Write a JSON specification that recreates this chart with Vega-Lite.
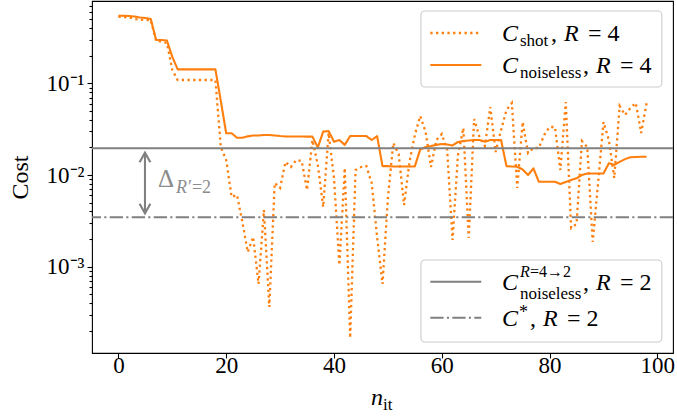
{
"$schema": "https://vega.github.io/schema/vega-lite/v6.json",
"width": 581, "height": 352,
"autosize": {"type": "none"},
"padding": {"left": 92, "top": 1, "right": 4, "bottom": 66},
"background": "white",
"config": {"view": {"stroke": "black", "strokeWidth": 1.1}, "font": "Liberation Serif"},
"datasets": {
"cost": [
{"it":0,"series":"shot","cost":0.535},{"it":1,"series":"shot","cost":0.528},{"it":2,"series":"shot","cost":0.522},{"it":3,"series":"shot","cost":0.503},{"it":4,"series":"shot","cost":0.496},{"it":5,"series":"shot","cost":0.49},{"it":6,"series":"shot","cost":0.49},{"it":7,"series":"shot","cost":0.289},{"it":8,"series":"shot","cost":0.286},{"it":9,"series":"shot","cost":0.275},
{"it":10,"series":"shot","cost":0.1396},{"it":11,"series":"shot","cost":0.1086},{"it":12,"series":"shot","cost":0.1086},{"it":13,"series":"shot","cost":0.1086},{"it":14,"series":"shot","cost":0.1086},{"it":15,"series":"shot","cost":0.1086},{"it":16,"series":"shot","cost":0.1086},{"it":17,"series":"shot","cost":0.1086},{"it":18,"series":"shot","cost":0.1086},{"it":19,"series":"shot","cost":0.0202},
{"it":20,"series":"shot","cost":0.01458},{"it":21,"series":"shot","cost":0.00576},{"it":22,"series":"shot","cost":0.00605},{"it":23,"series":"shot","cost":0.00307},{"it":24,"series":"shot","cost":0.001446},{"it":25,"series":"shot","cost":0.002108},{"it":26,"series":"shot","cost":0.000648},{"it":27,"series":"shot","cost":0.00415},{"it":28,"series":"shot","cost":0.000363},{"it":29,"series":"shot","cost":0.00818},
{"it":30,"series":"shot","cost":0.00722},{"it":31,"series":"shot","cost":0.01386},{"it":32,"series":"shot","cost":0.01223},{"it":33,"series":"shot","cost":0.01458},{"it":34,"series":"shot","cost":0.01421},{"it":35,"series":"shot","cost":0.00686},{"it":36,"series":"shot","cost":0.02407},{"it":37,"series":"shot","cost":0.01285},{"it":38,"series":"shot","cost":0.00448},{"it":39,"series":"shot","cost":0.02871},
{"it":40,"series":"shot","cost":0.00927},{"it":41,"series":"shot","cost":0.001043},{"it":42,"series":"shot","cost":0.01192},{"it":43,"series":"shot","cost":0.000167},{"it":44,"series":"shot","cost":0.01134},{"it":45,"series":"shot","cost":0.01223},{"it":46,"series":"shot","cost":0.01253},{"it":47,"series":"shot","cost":0.00818},{"it":48,"series":"shot","cost":0.002108},{"it":49,"series":"shot","cost":0.000648},
{"it":50,"series":"shot","cost":0.00561},{"it":51,"series":"shot","cost":0.02234},{"it":52,"series":"shot","cost":0.01694},{"it":53,"series":"shot","cost":0.00471},{"it":54,"series":"shot","cost":0.01386},{"it":55,"series":"shot","cost":0.0273},{"it":56,"series":"shot","cost":0.04399},{"it":57,"series":"shot","cost":0.02944},{"it":58,"series":"shot","cost":0.01223},{"it":59,"series":"shot","cost":0.02407},
{"it":60,"series":"shot","cost":0.028},{"it":61,"series":"shot","cost":0.01874},{"it":62,"series":"shot","cost":0.001956},{"it":63,"series":"shot","cost":0.01652},{"it":64,"series":"shot","cost":0.03255},{"it":65,"series":"shot","cost":0.002056},{"it":66,"series":"shot","cost":0.0408},{"it":67,"series":"shot","cost":0.02597},{"it":68,"series":"shot","cost":0.02071},{"it":69,"series":"shot","cost":0.05514},
{"it":70,"series":"shot","cost":0.01781},{"it":71,"series":"shot","cost":0.03095},{"it":72,"series":"shot","cost":0.05114},{"it":73,"series":"shot","cost":0.06098},{"it":74,"series":"shot","cost":0.00722},{"it":75,"series":"shot","cost":0.03784},{"it":76,"series":"shot","cost":0.01738},{"it":77,"series":"shot","cost":0.0197},{"it":78,"series":"shot","cost":0.0197},{"it":79,"series":"shot","cost":0.0273},
{"it":80,"series":"shot","cost":0.03338},{"it":81,"series":"shot","cost":0.03338},{"it":82,"series":"shot","cost":0.01134},{"it":83,"series":"shot","cost":0.06253},{"it":84,"series":"shot","cost":0.002642},{"it":85,"series":"shot","cost":0.002921},{"it":86,"series":"shot","cost":0.02348},{"it":87,"series":"shot","cost":0.0202},{"it":88,"series":"shot","cost":0.00186},{"it":89,"series":"shot","cost":0.00818},
{"it":90,"series":"shot","cost":0.03784},{"it":91,"series":"shot","cost":0.02407},{"it":92,"series":"shot","cost":0.00927},{"it":93,"series":"shot","cost":0.05655},{"it":94,"series":"shot","cost":0.0451},{"it":95,"series":"shot","cost":0.05376},{"it":96,"series":"shot","cost":0.06098},{"it":97,"series":"shot","cost":0.02871},{"it":98,"series":"shot","cost":0.06098},
{"it":0,"series":"noiseless","cost":0.546},{"it":1,"series":"noiseless","cost":0.546},{"it":2,"series":"noiseless","cost":0.542},{"it":3,"series":"noiseless","cost":0.535},{"it":4,"series":"noiseless","cost":0.522},{"it":5,"series":"noiseless","cost":0.515},{"it":6,"series":"noiseless","cost":0.503},{"it":7,"series":"noiseless","cost":0.297},{"it":8,"series":"noiseless","cost":0.297},{"it":9,"series":"noiseless","cost":0.293},
{"it":10,"series":"noiseless","cost":0.194},{"it":11,"series":"noiseless","cost":0.142},{"it":12,"series":"noiseless","cost":0.142},{"it":13,"series":"noiseless","cost":0.142},{"it":14,"series":"noiseless","cost":0.142},{"it":15,"series":"noiseless","cost":0.142},{"it":16,"series":"noiseless","cost":0.142},{"it":17,"series":"noiseless","cost":0.142},{"it":18,"series":"noiseless","cost":0.142},{"it":19,"series":"noiseless","cost":0.0641},
{"it":20,"series":"noiseless","cost":0.0285},{"it":21,"series":"noiseless","cost":0.0285},{"it":22,"series":"noiseless","cost":0.0255},{"it":23,"series":"noiseless","cost":0.0255},{"it":24,"series":"noiseless","cost":0.0264},{"it":25,"series":"noiseless","cost":0.027},{"it":26,"series":"noiseless","cost":0.027},{"it":27,"series":"noiseless","cost":0.0273},{"it":28,"series":"noiseless","cost":0.0273},{"it":29,"series":"noiseless","cost":0.027},
{"it":30,"series":"noiseless","cost":0.0266},{"it":31,"series":"noiseless","cost":0.0263},{"it":32,"series":"noiseless","cost":0.0263},{"it":33,"series":"noiseless","cost":0.0263},{"it":34,"series":"noiseless","cost":0.0263},{"it":35,"series":"noiseless","cost":0.0262},{"it":36,"series":"noiseless","cost":0.0262},{"it":37,"series":"noiseless","cost":0.02},{"it":38,"series":"noiseless","cost":0.0297},{"it":39,"series":"noiseless","cost":0.0302},
{"it":40,"series":"noiseless","cost":0.0231},{"it":41,"series":"noiseless","cost":0.0241},{"it":42,"series":"noiseless","cost":0.0213},{"it":43,"series":"noiseless","cost":0.0266},{"it":44,"series":"noiseless","cost":0.0266},{"it":45,"series":"noiseless","cost":0.0266},{"it":46,"series":"noiseless","cost":0.0266},{"it":47,"series":"noiseless","cost":0.0241},{"it":48,"series":"noiseless","cost":0.0266},{"it":49,"series":"noiseless","cost":0.0125},
{"it":50,"series":"noiseless","cost":0.0125},{"it":51,"series":"noiseless","cost":0.0124},{"it":52,"series":"noiseless","cost":0.0124},{"it":53,"series":"noiseless","cost":0.0124},{"it":54,"series":"noiseless","cost":0.0124},{"it":55,"series":"noiseless","cost":0.0124},{"it":56,"series":"noiseless","cost":0.019},{"it":57,"series":"noiseless","cost":0.0202},{"it":58,"series":"noiseless","cost":0.0207},{"it":59,"series":"noiseless","cost":0.0213},
{"it":60,"series":"noiseless","cost":0.0218},{"it":61,"series":"noiseless","cost":0.0215},{"it":62,"series":"noiseless","cost":0.021},{"it":63,"series":"noiseless","cost":0.0229},{"it":64,"series":"noiseless","cost":0.0235},{"it":65,"series":"noiseless","cost":0.0238},{"it":66,"series":"noiseless","cost":0.0241},{"it":67,"series":"noiseless","cost":0.0241},{"it":68,"series":"noiseless","cost":0.0231},{"it":69,"series":"noiseless","cost":0.0241},
{"it":70,"series":"noiseless","cost":0.0241},{"it":71,"series":"noiseless","cost":0.0241},{"it":72,"series":"noiseless","cost":0.0125},{"it":73,"series":"noiseless","cost":0.0124},{"it":74,"series":"noiseless","cost":0.0123},{"it":75,"series":"noiseless","cost":0.0115},{"it":76,"series":"noiseless","cost":0.01},{"it":77,"series":"noiseless","cost":0.0118},{"it":78,"series":"noiseless","cost":0.00845},{"it":79,"series":"noiseless","cost":0.00845},
{"it":80,"series":"noiseless","cost":0.00845},{"it":81,"series":"noiseless","cost":0.00845},{"it":82,"series":"noiseless","cost":0.00798},{"it":83,"series":"noiseless","cost":0.00839},{"it":84,"series":"noiseless","cost":0.00882},{"it":85,"series":"noiseless","cost":0.0092},{"it":86,"series":"noiseless","cost":0.01},{"it":87,"series":"noiseless","cost":0.0104},{"it":88,"series":"noiseless","cost":0.0104},{"it":89,"series":"noiseless","cost":0.0104},
{"it":90,"series":"noiseless","cost":0.0104},{"it":91,"series":"noiseless","cost":0.0134},{"it":92,"series":"noiseless","cost":0.0129},{"it":93,"series":"noiseless","cost":0.0139},{"it":94,"series":"noiseless","cost":0.0149},{"it":95,"series":"noiseless","cost":0.0156},{"it":96,"series":"noiseless","cost":0.0157},{"it":97,"series":"noiseless","cost":0.0158},{"it":98,"series":"noiseless","cost":0.0158}
],
"refs": [{"name":"noiseless_R4to2","value":0.01955},{"name":"optimal","value":0.003457}]
},
"layer": [
{"data": {"name": "cost"}, "transform": [{"filter": "datum.series == 'shot'"}],
 "mark": {"type": "line", "color": "#ff7f0e", "strokeWidth": 2.3, "strokeDash": [2.3, 3.4], "strokeCap": "butt"},
 "encoding": {
  "x": {"field": "it", "type": "quantitative", "scale": {"domain": [-4.9, 102.9], "nice": false, "zero": false},
   "axis": {"values": [0,20,40,60,80,100], "title": null, "grid": false, "domain": false, "tickSize": 5, "tickWidth": 1.1, "tickColor": "black", "labelFont": "Liberation Serif", "labelFontSize": 23, "labelColor": "black", "labelPadding": -4, "labelFlush": false, "labelOverlap": false}},
  "y": {"field": "cost", "type": "quantitative", "scale": {"type": "log", "domain": [0.0001145, 0.79], "nice": false},
   "axis": {"values": [0.0002,0.0003,0.0004,0.0005,0.0006,0.0007,0.0008,0.0009,0.001,0.002,0.003,0.004,0.005,0.006,0.007,0.008,0.009,0.01,0.02,0.03,0.04,0.05,0.06,0.07,0.08,0.09,0.1,0.2,0.3,0.4,0.5,0.6,0.7],
    "labelExpr": "datum.value == 0.1 ? '10⁻¹' : datum.value == 0.01 ? '10⁻²' : datum.value == 0.001 ? '10⁻³' : ''",
    "title": "Cost", "titleFont": "Liberation Serif", "titleFontSize": 24, "titleFontWeight": "normal", "titleColor": "black", "titlePadding": 14,
    "grid": false, "domain": false,
    "tickSize": {"condition": {"test": "datum.value == 0.1 || datum.value == 0.01 || datum.value == 0.001", "value": 5}, "value": 3},
    "tickWidth": 1.1, "tickColor": "black", "labelFont": "Liberation Serif", "labelFontSize": 23, "labelColor": "black", "labelPadding": 3, "labelFlush": false, "labelOverlap": false}}
 }},
{"data": {"name": "cost"}, "transform": [{"filter": "datum.series == 'noiseless'"}],
 "mark": {"type": "line", "color": "#ff7f0e", "strokeWidth": 2.1, "strokeJoin": "round"},
 "encoding": {"x": {"field": "it", "type": "quantitative"}, "y": {"field": "cost", "type": "quantitative"}}},
{"data": {"name": "refs"}, "transform": [{"filter": "datum.name == 'noiseless_R4to2'"}],
 "mark": {"type": "rule", "color": "#808080", "strokeWidth": 2.1},
 "encoding": {"y": {"field": "value", "type": "quantitative"}}},
{"data": {"name": "refs"}, "transform": [{"filter": "datum.name == 'optimal'"}],
 "mark": {"type": "rule", "color": "#808080", "strokeWidth": 2.1, "strokeDash": [13.3, 3.3, 2.1, 3.3]},
 "encoding": {"y": {"field": "value", "type": "quantitative"}}},
{"data": {"values": [{}]},
 "mark": {"type": "rule", "color": "#808080", "strokeWidth": 2.1},
 "encoding": {"x": {"datum": 4.93, "type": "quantitative"}, "y": {"datum": 0.0175, "type": "quantitative"}, "y2": {"datum": 0.00382}}},
{"data": {"values": [{}]},
 "mark": {"type": "point", "shape": "M -0.9 1.6 L 0 0 L 0.9 1.6", "size": 144, "filled": false, "stroke": "#808080", "strokeWidth": 2.1, "opacity": 1},
 "encoding": {"x": {"datum": 4.93, "type": "quantitative"}, "y": {"datum": 0.0175, "type": "quantitative"}}},
{"data": {"values": [{}]},
 "mark": {"type": "point", "shape": "M -0.9 -1.6 L 0 0 L 0.9 -1.6", "size": 144, "filled": false, "stroke": "#808080", "strokeWidth": 2.1, "opacity": 1},
 "encoding": {"x": {"datum": 4.93, "type": "quantitative"}, "y": {"datum": 0.00382, "type": "quantitative"}}},
{"data": {"values": [{}]},
 "mark": {"type": "text", "text": "Δ", "font": "Liberation Serif", "fontSize": 25, "color": "#8c8c8c", "align": "left", "baseline": "alphabetic"},
 "encoding": {"x": {"datum": 7.35, "type": "quantitative"}, "y": {"datum": 0.00745, "type": "quantitative"}}},
{"data": {"values": [{}]},
 "mark": {"type": "text", "text": "R", "font": "Liberation Serif", "fontStyle": "italic", "fontSize": 18, "color": "#8c8c8c", "align": "left", "baseline": "alphabetic", "dx": 18, "dy": 6},
 "encoding": {"x": {"datum": 7.35, "type": "quantitative"}, "y": {"datum": 0.00745, "type": "quantitative"}}},
{"data": {"values": [{}]},
 "mark": {"type": "text", "text": "′=2", "font": "Liberation Serif", "fontSize": 18, "color": "#8c8c8c", "align": "left", "baseline": "alphabetic", "dx": 30, "dy": 6},
 "encoding": {"x": {"datum": 7.35, "type": "quantitative"}, "y": {"datum": 0.00745, "type": "quantitative"}}},
{"data": {"values": [{}]},
 "mark": {"type": "rect", "cornerRadius": 4, "fill": "white", "fillOpacity": 0.8, "stroke": "#cccccc", "strokeWidth": 1.1},
 "encoding": {"x": {"datum": 56.13, "type": "quantitative"}, "x2": {"datum": 100.83}, "y": {"datum": 0.6144, "type": "quantitative"}, "y2": {"datum": 0.0912}}},
{"data": {"values": [{}]},
 "mark": {"type": "rect", "cornerRadius": 4, "fill": "white", "fillOpacity": 0.8, "stroke": "#cccccc", "strokeWidth": 1.1},
 "encoding": {"x": {"datum": 56.13, "type": "quantitative"}, "x2": {"datum": 100.83}, "y": {"datum": 0.001183, "type": "quantitative"}, "y2": {"datum": 0.000151}}},
{"data": {"values": [{}]},
 "mark": {"type": "rule", "color": "#ff7f0e", "strokeWidth": 2.3, "strokeDash": [2.3, 3.4], "strokeCap": "butt"},
 "encoding": {"x": {"datum": 57.87, "type": "quantitative"}, "x2": {"datum": 67.33}, "y": {"datum": 0.3536, "type": "quantitative"}}},
{"data": {"values": [{}]},
 "mark": {"type": "rule", "color": "#ff7f0e", "strokeWidth": 2.1},
 "encoding": {"x": {"datum": 57.87, "type": "quantitative"}, "x2": {"datum": 67.33}, "y": {"datum": 0.1583, "type": "quantitative"}}},
{"data": {"values": [{}]},
 "mark": {"type": "rule", "color": "#808080", "strokeWidth": 2.1},
 "encoding": {"x": {"datum": 57.87, "type": "quantitative"}, "x2": {"datum": 67.33}, "y": {"datum": 0.000686, "type": "quantitative"}}},
{"data": {"values": [{}]},
 "mark": {"type": "rule", "color": "#808080", "strokeWidth": 2.1, "strokeDash": [13.3, 3.3, 2.1, 3.3]},
 "encoding": {"x": {"datum": 57.87, "type": "quantitative"}, "x2": {"datum": 67.33}, "y": {"datum": 0.000278, "type": "quantitative"}}},
{"data": {"values": [{}]},
 "mark": {"type": "text", "text": "C", "fontStyle": "italic", "fontSize": 24, "align": "left", "baseline": "alphabetic", "dy": 8},
 "encoding": {"x": {"datum": 71.16, "type": "quantitative"}, "y": {"datum": 0.3536, "type": "quantitative"}}},
{"data": {"values": [{}]},
 "mark": {"type": "text", "text": "shot", "fontSize": 17, "align": "left", "baseline": "alphabetic", "dx": 18, "dy": 13},
 "encoding": {"x": {"datum": 71.16, "type": "quantitative"}, "y": {"datum": 0.3536, "type": "quantitative"}}},
{"data": {"values": [{}]},
 "mark": {"type": "text", "text": ",", "fontSize": 24, "align": "left", "baseline": "alphabetic", "dx": 49, "dy": 8},
 "encoding": {"x": {"datum": 71.16, "type": "quantitative"}, "y": {"datum": 0.3536, "type": "quantitative"}}},
{"data": {"values": [{}]},
 "mark": {"type": "text", "text": "R", "fontStyle": "italic", "fontSize": 24, "align": "left", "baseline": "alphabetic", "dx": 62, "dy": 8},
 "encoding": {"x": {"datum": 71.16, "type": "quantitative"}, "y": {"datum": 0.3536, "type": "quantitative"}}},
{"data": {"values": [{}]},
 "mark": {"type": "text", "text": "= 4", "fontSize": 24, "align": "left", "baseline": "alphabetic", "dx": 86, "dy": 8},
 "encoding": {"x": {"datum": 71.16, "type": "quantitative"}, "y": {"datum": 0.3536, "type": "quantitative"}}},
{"data": {"values": [{}]},
 "mark": {"type": "text", "text": "C", "fontStyle": "italic", "fontSize": 24, "align": "left", "baseline": "alphabetic", "dy": 8},
 "encoding": {"x": {"datum": 71.16, "type": "quantitative"}, "y": {"datum": 0.1583, "type": "quantitative"}}},
{"data": {"values": [{}]},
 "mark": {"type": "text", "text": "noiseless", "fontSize": 17, "align": "left", "baseline": "alphabetic", "dx": 18, "dy": 13},
 "encoding": {"x": {"datum": 71.16, "type": "quantitative"}, "y": {"datum": 0.1583, "type": "quantitative"}}},
{"data": {"values": [{}]},
 "mark": {"type": "text", "text": ",", "fontSize": 24, "align": "left", "baseline": "alphabetic", "dx": 81, "dy": 8},
 "encoding": {"x": {"datum": 71.16, "type": "quantitative"}, "y": {"datum": 0.1583, "type": "quantitative"}}},
{"data": {"values": [{}]},
 "mark": {"type": "text", "text": "R", "fontStyle": "italic", "fontSize": 24, "align": "left", "baseline": "alphabetic", "dx": 94, "dy": 8},
 "encoding": {"x": {"datum": 71.16, "type": "quantitative"}, "y": {"datum": 0.1583, "type": "quantitative"}}},
{"data": {"values": [{}]},
 "mark": {"type": "text", "text": "= 4", "fontSize": 24, "align": "left", "baseline": "alphabetic", "dx": 118, "dy": 8},
 "encoding": {"x": {"datum": 71.16, "type": "quantitative"}, "y": {"datum": 0.1583, "type": "quantitative"}}},
{"data": {"values": [{}]},
 "mark": {"type": "text", "text": "C", "fontStyle": "italic", "fontSize": 24, "align": "left", "baseline": "alphabetic", "dy": 8},
 "encoding": {"x": {"datum": 71.16, "type": "quantitative"}, "y": {"datum": 0.000686, "type": "quantitative"}}},
{"data": {"values": [{}]},
 "mark": {"type": "text", "text": "R", "fontStyle": "italic", "fontSize": 16, "align": "left", "baseline": "alphabetic", "dx": 18, "dy": -5},
 "encoding": {"x": {"datum": 71.16, "type": "quantitative"}, "y": {"datum": 0.000686, "type": "quantitative"}}},
{"data": {"values": [{}]},
 "mark": {"type": "text", "text": "=4→2", "fontSize": 16, "align": "left", "baseline": "alphabetic", "dx": 28, "dy": -5},
 "encoding": {"x": {"datum": 71.16, "type": "quantitative"}, "y": {"datum": 0.000686, "type": "quantitative"}}},
{"data": {"values": [{}]},
 "mark": {"type": "text", "text": "noiseless", "fontSize": 17, "align": "left", "baseline": "alphabetic", "dx": 18, "dy": 17},
 "encoding": {"x": {"datum": 71.16, "type": "quantitative"}, "y": {"datum": 0.000686, "type": "quantitative"}}},
{"data": {"values": [{}]},
 "mark": {"type": "text", "text": ",", "fontSize": 24, "align": "left", "baseline": "alphabetic", "dx": 81, "dy": 8},
 "encoding": {"x": {"datum": 71.16, "type": "quantitative"}, "y": {"datum": 0.000686, "type": "quantitative"}}},
{"data": {"values": [{}]},
 "mark": {"type": "text", "text": "R", "fontStyle": "italic", "fontSize": 24, "align": "left", "baseline": "alphabetic", "dx": 94, "dy": 8},
 "encoding": {"x": {"datum": 71.16, "type": "quantitative"}, "y": {"datum": 0.000686, "type": "quantitative"}}},
{"data": {"values": [{}]},
 "mark": {"type": "text", "text": "= 2", "fontSize": 24, "align": "left", "baseline": "alphabetic", "dx": 118, "dy": 8},
 "encoding": {"x": {"datum": 71.16, "type": "quantitative"}, "y": {"datum": 0.000686, "type": "quantitative"}}},
{"data": {"values": [{}]},
 "mark": {"type": "text", "text": "C", "fontStyle": "italic", "fontSize": 24, "align": "left", "baseline": "alphabetic", "dy": 8},
 "encoding": {"x": {"datum": 71.16, "type": "quantitative"}, "y": {"datum": 0.000278, "type": "quantitative"}}},
{"data": {"values": [{}]},
 "mark": {"type": "text", "text": "*", "fontSize": 18, "align": "left", "baseline": "alphabetic", "dx": 17, "dy": 0},
 "encoding": {"x": {"datum": 71.16, "type": "quantitative"}, "y": {"datum": 0.000278, "type": "quantitative"}}},
{"data": {"values": [{}]},
 "mark": {"type": "text", "text": ",", "fontSize": 24, "align": "left", "baseline": "alphabetic", "dx": 28, "dy": 8},
 "encoding": {"x": {"datum": 71.16, "type": "quantitative"}, "y": {"datum": 0.000278, "type": "quantitative"}}},
{"data": {"values": [{}]},
 "mark": {"type": "text", "text": "R", "fontStyle": "italic", "fontSize": 24, "align": "left", "baseline": "alphabetic", "dx": 41, "dy": 8},
 "encoding": {"x": {"datum": 71.16, "type": "quantitative"}, "y": {"datum": 0.000278, "type": "quantitative"}}},
{"data": {"values": [{}]},
 "mark": {"type": "text", "text": "= 2", "fontSize": 24, "align": "left", "baseline": "alphabetic", "dx": 65, "dy": 8},
 "encoding": {"x": {"datum": 71.16, "type": "quantitative"}, "y": {"datum": 0.000278, "type": "quantitative"}}},
{"data": {"values": [{}]},
 "mark": {"type": "text", "text": "n", "fontStyle": "italic", "fontSize": 24, "align": "left", "baseline": "alphabetic"},
 "encoding": {"x": {"datum": 46.86, "type": "quantitative"}, "y": {"datum": 0.000031, "type": "quantitative"}}},
{"data": {"values": [{}]},
 "mark": {"type": "text", "text": "it", "fontSize": 17, "align": "left", "baseline": "alphabetic", "dx": 12, "dy": 5},
 "encoding": {"x": {"datum": 46.86, "type": "quantitative"}, "y": {"datum": 0.000031, "type": "quantitative"}}}
]
}
